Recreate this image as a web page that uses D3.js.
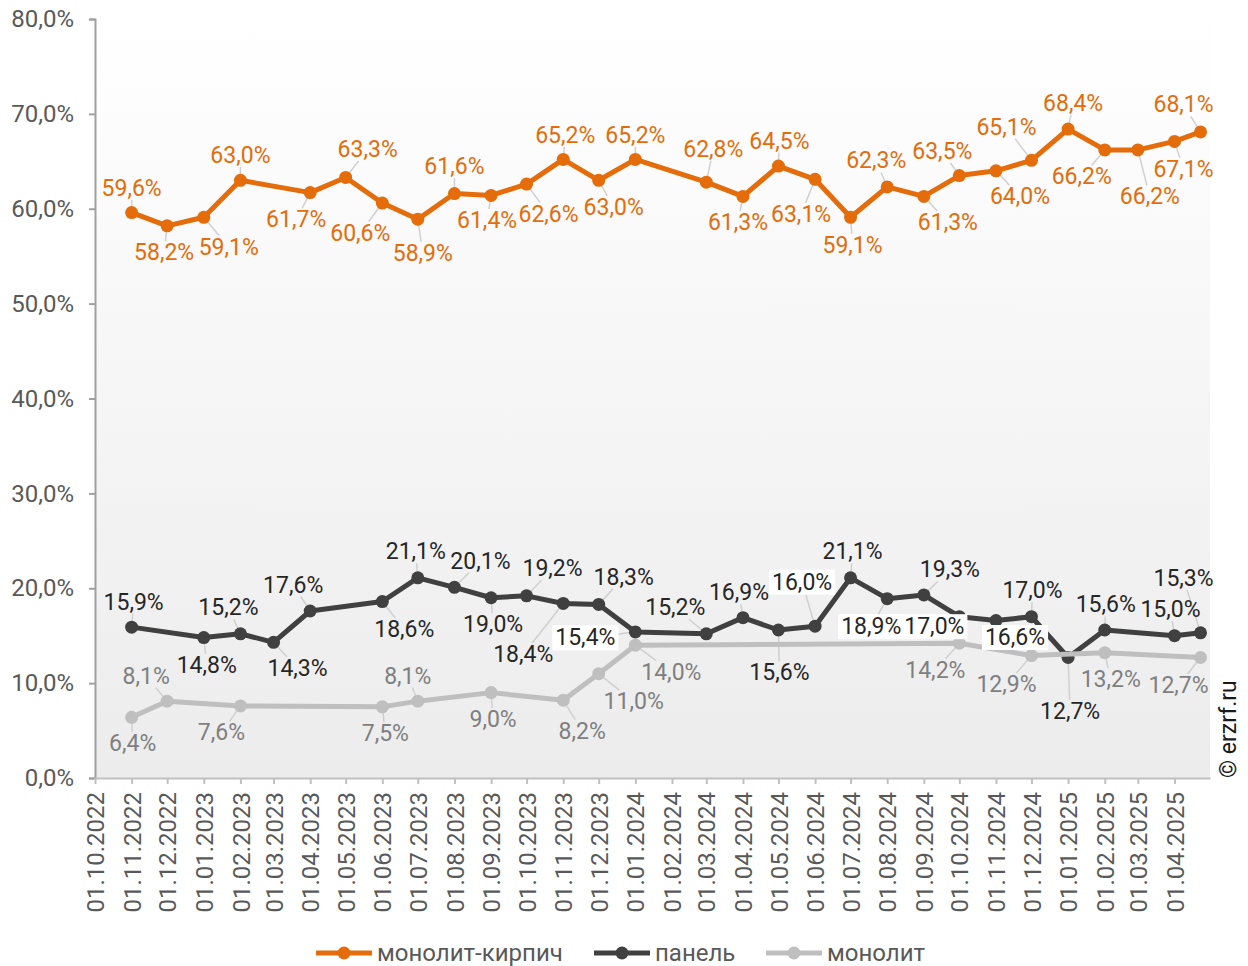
<!DOCTYPE html>
<html lang="ru">
<head>
<meta charset="utf-8">
<title>Доля типов стен</title>
<script src="https://d3js.org/d3.v7.min.js"></script>
<style>
  body { margin: 0; background: #fff; }
  text { font-family: Roboto, "Noto Sans", sans-serif; }
</style>
</head>
<body>
<script>
// --- data ---
var seriesNames = ["монолит-кирпич", "панель", "монолит"];

var orangeDates = ["2022-11-01","2022-12-01","2023-01-01","2023-02-01","2023-04-01","2023-05-01","2023-06-01",
  "2023-07-01","2023-08-01","2023-09-01","2023-10-01","2023-11-01","2023-12-01","2024-01-01","2024-03-01",
  "2024-04-01","2024-05-01","2024-06-01","2024-07-01","2024-08-01","2024-09-01","2024-10-01","2024-11-01",
  "2024-12-01","2025-01-01","2025-02-01","2025-03-01","2025-04-01","2025-04-23"];
var orangeValues = [59.6,58.2,59.1,63.0,61.7,63.3,60.6,58.9,61.6,61.4,62.6,65.2,63.0,65.2,62.8,61.3,64.5,63.1,
  59.1,62.3,61.3,63.5,64.0,65.1,68.4,66.2,66.2,67.1,68.1];

var panelDates = ["2022-11-01","2023-01-01","2023-02-01","2023-03-01","2023-04-01","2023-06-01","2023-07-01",
  "2023-08-01","2023-09-01","2023-10-01","2023-11-01","2023-12-01","2024-01-01","2024-03-01","2024-04-01",
  "2024-05-01","2024-06-01","2024-07-01","2024-08-01","2024-09-01","2024-10-01","2024-11-01","2024-12-01",
  "2025-01-01","2025-02-01","2025-04-01","2025-04-23"];
var panelValues = [15.9,14.8,15.2,14.3,17.6,18.6,21.1,20.1,19.0,19.2,18.4,18.3,15.4,15.2,16.9,15.6,16.0,21.1,
  18.9,19.3,17.0,16.6,17.0,12.7,15.6,15.0,15.3];

var monolitDates = ["2022-11-01","2022-12-01","2023-02-01","2023-06-01","2023-07-01","2023-09-01","2023-11-01",
  "2023-12-01","2024-01-01","2024-10-01","2024-12-01","2025-02-01","2025-04-23"];
var monolitValues = [6.4,8.1,7.6,7.5,8.1,9.0,8.2,11.0,14.0,14.2,12.9,13.2,12.7];

var yTicks = [0,10,20,30,40,50,60,70,80];

// label placement (pixel offsets of label centre from its point)
var orangeLabelOffsets = [[0,-24],[-3,27],[25,30],[0,-25],[-14,27],[22,-28],[-22,30],[5,34],[0,-27],[-4,25],
  [22,30],[2,-24],[15,27],[0,-24],[7,-33],[-5,26],[1,-25],[-14,35],[2,28],[-11,-26],[24,26],[-17,-24],[24,26],
  [-25,-33],[5,-26],[-23,27],[12,47],[9,28],[-17,-27]];
var panelLabelOffsets = [[2,-25],[3,28],[-12,-26],[24,26],[-17,-26],[22,28],[-2,-26],[26,-26],[2,27],[26,-27],
  [-40,51],[25,-27],[-50,6],[-31,-26],[-4,-25],[1,43],[-13,-44],[2,-26],[-16,28],[26,-25],[-25,10],[19,17],
  [1,-26],[2,54],[1,-25],[-4,-26],[-17,-54]];
var panelLabelBoxed = [12,16,18,20,21];
var monolitLabelOffsets = [[1,26],[-21,-25],[-19,27],[3,27],[-10,-25],[2,27],[19,31],[35,28],[36,27],[-24,27],
  [-25,29],[6,27],[-22,28]];

// --- layout ---
var w = 1248, h = 966;
var plotL = 95, plotR = 1210, plotT = 19, plotB = 778;
var parse = d3.timeParse("%Y-%m-%d");
var fmtPct = function(v) { return v.toFixed(1).replace(".", ",") + "%"; };

var svg = d3.select("body").append("svg")
  .attr("width", w).attr("height", h);

var x = d3.scaleTime()
  .domain([parse("2022-10-01"), parse("2025-05-01")])
  .range([plotL, plotR]);
var y = d3.scaleLinear().domain([0, 80]).range([plotB, plotT]);

var grad = svg.append("defs").append("linearGradient")
  .attr("id", "bg").attr("x1", 0).attr("y1", 0).attr("x2", 0).attr("y2", 1);
grad.append("stop").attr("offset", "0%").attr("stop-color", "#ffffff");
grad.append("stop").attr("offset", "100%").attr("stop-color", "#ececec");

svg.append("rect")
  .attr("x", plotL).attr("y", plotT)
  .attr("width", plotR - plotL).attr("height", plotB - plotT)
  .attr("fill", "url(#bg)");

// axes
var yAxis = svg.append("g")
  .attr("transform", "translate(" + plotL + ",0)")
  .call(d3.axisLeft(y).tickValues(yTicks).tickSize(6).tickPadding(15).tickFormat(fmtPct));
yAxis.select(".domain").attr("stroke", "#a0a0a0").attr("stroke-width", 2);
yAxis.selectAll(".tick line").attr("stroke", "#a0a0a0").attr("stroke-width", 2);
yAxis.selectAll("text").attr("font-size", 24).attr("fill", "#595959")
  .style("font-family", "Roboto, sans-serif");

var monthTicks = d3.timeMonth.range(parse("2022-10-01"), parse("2025-05-01"));
var xAxis = svg.append("g")
  .attr("transform", "translate(0," + plotB + ")")
  .call(d3.axisBottom(x).tickValues(monthTicks).tickSize(6).tickSizeOuter(0)
    .tickFormat(d3.timeFormat("%d.%m.%Y")));
xAxis.select(".domain").attr("stroke", "#c0c0c0").attr("stroke-width", 2);
xAxis.selectAll(".tick line").attr("stroke", "#c0c0c0").attr("stroke-width", 2);
xAxis.selectAll("text")
  .attr("font-size", 24).attr("fill", "#595959")
  .style("font-family", "Roboto, sans-serif")
  .attr("text-anchor", "end")
  .attr("transform", "rotate(-90)")
  .attr("x", -14).attr("y", 0).attr("dy", "0.36em");

// series
var series = [
  {name: seriesNames[0], dates: orangeDates, values: orangeValues, offs: orangeLabelOffsets,
   color: "#e46c0a", labelColor: "#e46c0a", boxed: []},
  {name: seriesNames[1], dates: panelDates, values: panelValues, offs: panelLabelOffsets,
   color: "#404040", labelColor: "#262626", boxed: panelLabelBoxed},
  {name: seriesNames[2], dates: monolitDates, values: monolitValues, offs: monolitLabelOffsets,
   color: "#bfbfbf", labelColor: "#7f7f7f", boxed: []}
];
series.forEach(function(s) {
  s.points = s.values.map(function(v, i) {
    return {px: x(parse(s.dates[i])), py: y(v), v: v,
      lx: x(parse(s.dates[i])) + s.offs[i][0], ly: y(v) + s.offs[i][1],
      boxed: s.boxed.indexOf(i) >= 0};
  });
});

var leaderLayer = svg.append("g");
var lineLayer = svg.append("g");
var labelLayer = svg.append("g");

var line = d3.line().x(d => d.px).y(d => d.py);

series.forEach(function(s) {
  var g = lineLayer.append("g");
  g.append("path").datum(s.points)
    .attr("d", line).attr("fill", "none")
    .attr("stroke", s.color).attr("stroke-width", 5)
    .attr("stroke-linejoin", "round");
  g.selectAll("circle").data(s.points).enter().append("circle")
    .attr("cx", d => d.px).attr("cy", d => d.py).attr("r", 6.5)
    .attr("fill", s.color);
});

series.forEach(function(s) {
  s.points.forEach(function(p) {
    var g = labelLayer.append("g");
    var t = g.append("text")
      .attr("x", p.lx).attr("y", p.ly)
      .attr("text-anchor", "middle").attr("dominant-baseline", "central")
      .attr("font-size", 23).attr("fill", s.labelColor)
      .text(fmtPct(p.v));
    var bb = t.node().getBBox();
    if (p.boxed) {
      g.insert("rect", "text")
        .attr("x", bb.x - 3).attr("y", bb.y + 1)
        .attr("width", bb.width + 6).attr("height", bb.height - 2)
        .attr("fill", "#ffffff");
    }
    // leader line from label edge to the point
    var vx = p.px - p.lx, vy = p.py - p.ly;
    var hw = bb.width / 2 + 1, hh = bb.height / 2 - 2;
    var tt = Math.min(vx ? hw / Math.abs(vx) : Infinity, vy ? hh / Math.abs(vy) : Infinity);
    if (tt < 1) {
      var sx = p.lx + vx * tt, sy = p.ly + vy * tt;
      var len = Math.hypot(p.px - sx, p.py - sy);
      if (len > 8) {
        leaderLayer.append("line")
          .attr("x1", sx).attr("y1", sy).attr("x2", p.px).attr("y2", p.py)
          .attr("stroke", "#d0d0d0").attr("stroke-width", 1.5);
      }
    }
  });
});

// legend
var legendX = [316, 594, 766];
series.forEach(function(s, i) {
  var g = svg.append("g").attr("transform", "translate(" + legendX[i] + ",953)");
  g.append("line").attr("x1", 0).attr("x2", 56).attr("y1", 0).attr("y2", 0)
    .attr("stroke", s.color).attr("stroke-width", 5);
  g.append("circle").attr("cx", 28).attr("cy", 0).attr("r", 6.5).attr("fill", s.color);
  g.append("text").attr("x", 61).attr("y", 0).attr("dominant-baseline", "central")
    .attr("font-size", 24).attr("fill", "#595959").text(s.name);
});

// source
svg.append("text")
  .attr("transform", "translate(1236,778) rotate(-90)")
  .attr("font-size", 23).attr("fill", "#1a1a1a")
  .text("© erzrf.ru");
</script>
</body>
</html>
